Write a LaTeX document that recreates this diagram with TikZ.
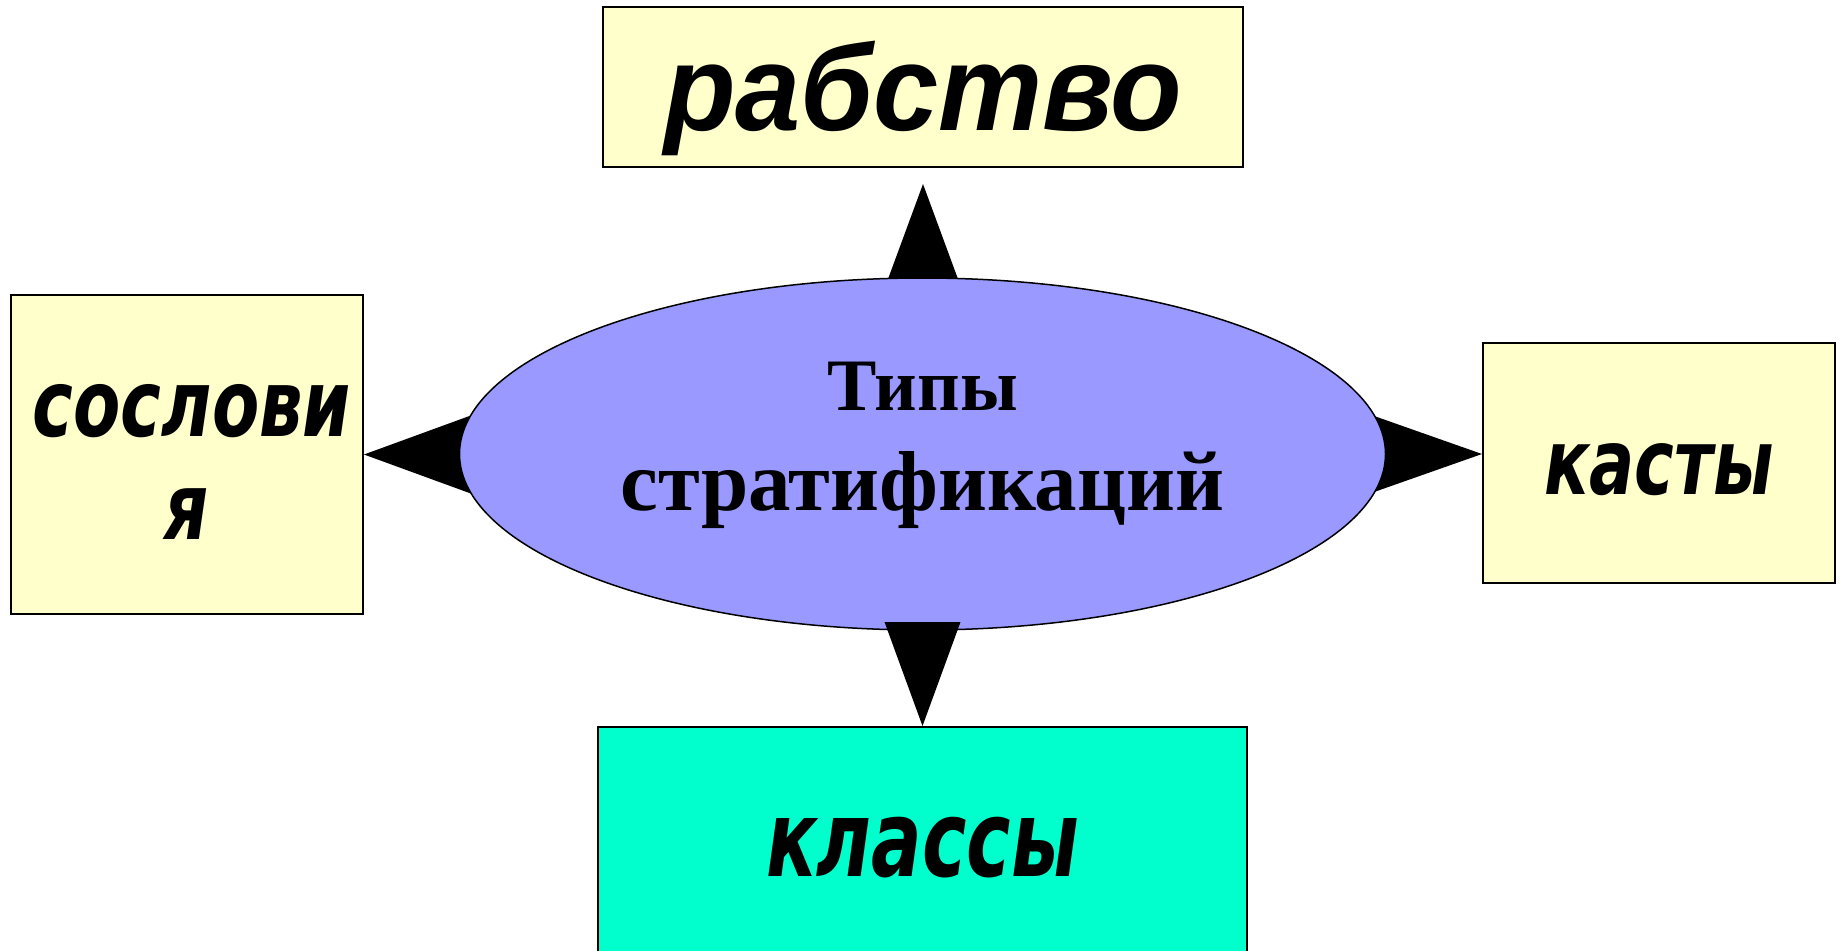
\documentclass[tikz,border=0pt]{standalone}
\usepackage{fontspec}
\setmainfont{Liberation Serif}
\newfontfamily\boxfont{DejaVu Sans}
\newfontfamily\rabfont{Liberation Sans}
\usetikzlibrary{shapes.geometric,backgrounds,calc}
\definecolor{boxyellow}{HTML}{FFFFCC}
\definecolor{ellblue}{HTML}{9999FF}
\definecolor{boxaqua}{HTML}{00FFCC}
\tikzset{
  typebox/.style={draw=black, line width=2pt, fill=boxyellow, inner sep=0pt, text depth=0pt},
  wedge/.style={fill=black}
}
\begin{document}
\begin{tikzpicture}[x=1pt,y=-1pt]
\useasboundingbox (0,0) rectangle (1841,950);
\clip (0,0) rectangle (1841,950);
% boxes
\node[typebox, minimum width=640pt, minimum height=160pt, text height=86pt,
      font=\rabfont\bfseries\itshape\fontsize{122}{122}\selectfont] (rab) at (923,87)
  {\scalebox{0.96}[1]{рабство}};
\node[typebox, minimum width=352pt, minimum height=319pt, text height=169pt,
      font=\boxfont\bfseries\itshape\fontsize{93}{93}\selectfont] (sos) at (187,454.5)
  {\vbox{\baselineskip=103pt\lineskiplimit=-200pt
     \hbox to 0pt{\hss\kern10pt\scalebox{0.74}[1]{сослови}\hss}
     \hbox to 0pt{\hss\scalebox{0.74}[1]{я}\hss}}};
\node[typebox, minimum width=352pt, minimum height=240pt, text height=62pt,
      font=\boxfont\bfseries\itshape\fontsize{91}{91}\selectfont] (kas) at (1659,463)
  {\scalebox{0.736}[1]{касты}};
\node[typebox, fill=boxaqua, minimum width=649pt, minimum height=240pt, text height=58pt,
      font=\boxfont\bfseries\itshape\fontsize{106}{106}\selectfont] (kl) at (922.5,847)
  {\scalebox{0.707}[1]{классы}};
% ellipse
\node[draw=black, line width=1.5pt, ellipse, fill=ellblue, minimum width=926pt, minimum height=352pt, inner sep=0pt] (ell) at (922.5,454) {};
\node[anchor=base, inner sep=0pt, font=\bfseries] (title) at (922.5,510)
  {\vbox{\baselineskip=100pt\lineskiplimit=-200pt
     \hbox to 0pt{\hss\fontsize{74}{74}\selectfont Типы\hss}
     \hbox to 0pt{\hss\fontsize{85}{85}\selectfont стратификаций\hss}}};
% wedges behind the ellipse
\begin{scope}[on background layer]
  \path (rab.south) ++(0,16) coordinate (tTip);
  \fill[wedge] (tTip) -- ++(-40.5,110) -- ++(81,0) -- cycle;
  \fill[wedge] (sos.east) -- ++(115,-42) -- ++(0,84) -- cycle;
  \path (kas.west |- ell.east) coordinate (rTip);
  \fill[wedge] (rTip) -- ++(-115,-40.5) -- ++(0,81) -- cycle;
\end{scope}
% wedge in front of the ellipse
\fill[wedge] (kl.north) -- ++(-38,-104) -- ++(76,0) -- cycle;
\end{tikzpicture}
\end{document}
